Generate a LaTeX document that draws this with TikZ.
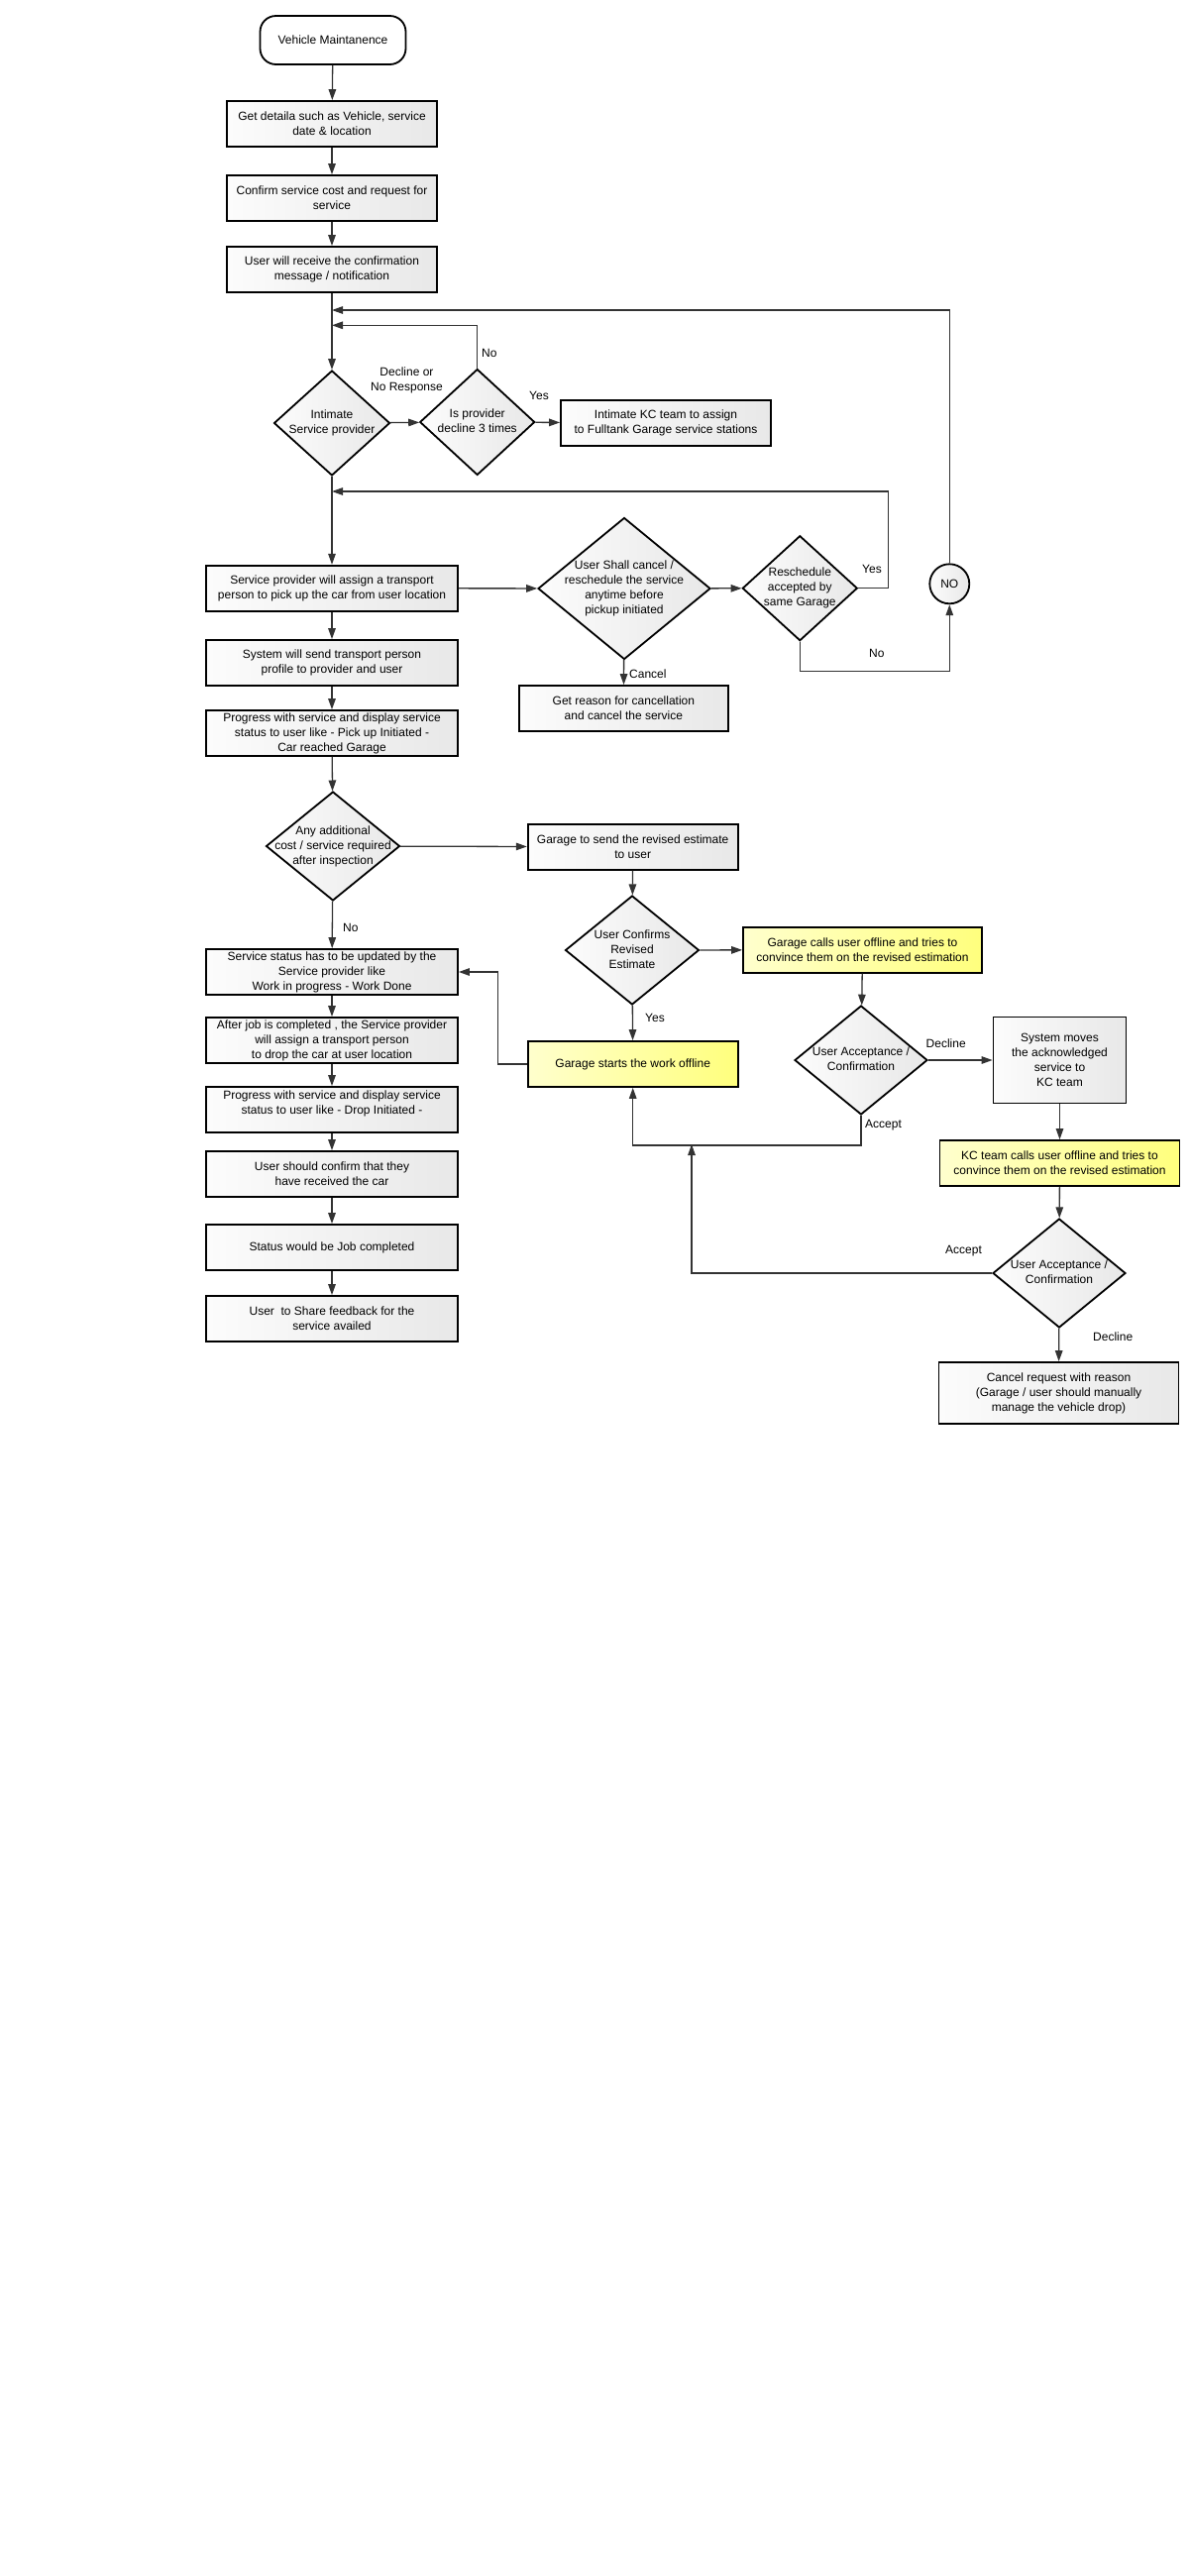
\documentclass[tikz,border=0pt]{standalone}
\usepackage{fontspec}
\setmainfont{Liberation Sans}
\usetikzlibrary{shapes.geometric,arrows.meta}
\newcommand{\dtext}[1]{\makebox[0pt]{\smash{\raisebox{-3pt}{\begin{tabular}{@{}c@{}}#1\end{tabular}}}}}
\definecolor{yl}{RGB}{255,255,205}
\definecolor{yr}{RGB}{255,255,125}
\definecolor{gl}{RGB}{252,252,252}
\definecolor{gr}{RGB}{232,232,232}
\begin{document}
\begin{tikzpicture}[x=1pt,y=-1pt,
  every node/.style={font=\fontsize{12}{15}\selectfont},
  box/.style={draw=black, line width=1.8pt, left color=gl, right color=gr, inner sep=0pt, align=center, minimum height=46pt},
  ybox/.style={box, left color=yl, right color=yr},
  dia/.style={diamond, draw=black, line width=1.8pt, left color=gl, right color=gr, inner sep=0pt},
  term/.style={draw=black, line width=1.8pt, rounded corners=16pt, fill=white, inner sep=0pt, minimum width=147pt, minimum height=49pt},
  endc/.style={circle, draw=black, line width=1.8pt, left color=gl, right color=gr, inner sep=0pt, minimum size=40pt},
  conn/.style={line width=1.3pt, draw=black!80, -{Triangle[length=11pt,width=7.5pt]}},
  lbl/.style={inner sep=0pt, align=center}
]
\useasboundingbox (0,0) rectangle (1200,2600);
\fill[white] (0,0) rectangle (1200,2600);

% main column
\node[term] (start) at (336,40.5) {Vehicle Maintanence};
\node[box, minimum width=212pt] (b1) at (335,125) {Get detaila such as Vehicle, service\\date \& location};
\node[box, minimum width=212pt] (b2) at (335,200) {Confirm service cost and request for\\service};
\node[box, minimum width=212pt] (b3) at (335,272) {User will receive the confirmation\\message / notification};
\node[dia, minimum width=117pt, minimum height=106pt] (d1) at (335,427) {\dtext{Intimate\\Service provider}};
\node[dia, minimum width=116pt, minimum height=107pt] (d2) at (481.7,426) {\dtext{Is provider\\decline 3 times}};
\node[box, minimum width=212pt] (kc1) at (672,427) {Intimate KC team to assign\\to Fulltank Garage service stations};

\node[box, minimum width=254pt] (sp) at (335,593.7) {Service provider will assign a transport\\person to pick up the car from user location};
\node[box, minimum width=254pt] (ss) at (335,669) {System will send transport person\\profile to provider and user};
\node[box, minimum width=254pt] (pg) at (335,740) {Progress with service and display service\\status to user like - Pick up Initiated -\\Car reached Garage};
\node[dia, minimum width=174pt, minimum height=143pt] (d3) at (630,594) {\dtext{User Shall cancel /\\reschedule the service\\anytime before\\pickup initiated}};
\node[box, minimum width=211pt] (gre0) at (629.4,715) {Get reason for cancellation\\and cancel the service};
\node[dia, minimum width=116pt, minimum height=106pt] (d4) at (807.3,593.7) {\dtext{Reschedule\\accepted by\\same Garage}};
\node[endc] (no) at (958.3,589.3) {NO};

\node[dia, minimum width=135pt, minimum height=110pt] (d5) at (336,854) {\dtext{Any additional\\cost / service required\\after inspection}};
\node[box, minimum width=212pt] (gre) at (638.7,854.7) {Garage to send the revised estimate\\to user};
\node[dia, minimum width=135pt, minimum height=110pt] (d6) at (638,959) {\dtext{User Confirms\\Revised\\Estimate}};
\node[ybox, minimum width=212pt] (gsw) at (638.7,1074) {Garage starts the work offline};
\node[ybox, minimum width=241pt] (gcu) at (870.5,958.7) {Garage calls user offline and tries to\\convince them on the revised estimation};
\node[dia, minimum width=134pt, minimum height=110pt] (d7) at (869,1070) {\dtext{User Acceptance /\\Confirmation}};
\node[box, minimum width=134pt, minimum height=87pt] (sm) at (1069.5,1070) {System moves\\the acknowledged\\service to\\KC team};
\node[ybox, minimum width=242pt] (kc2) at (1069.5,1174) {KC team calls user offline and tries to\\convince them on the revised estimation};
\node[dia, minimum width=134pt, minimum height=110pt] (d9) at (1069,1285) {\dtext{User Acceptance /\\Confirmation}};
\node[box, minimum width=242pt, minimum height=62pt] (cr) at (1068.5,1406) {Cancel request with reason\\(Garage / user should manually\\manage the vehicle drop)};

\node[box, minimum width=254pt] (su) at (335,981) {Service status has to be updated by the\\Service provider like\\Work in progress - Work Done};
\node[box, minimum width=254pt] (aj) at (335,1050) {After job is completed , the Service provider\\will assign a transport person\\to drop the car at user location};
\node[box, minimum width=254pt] (pd) at (335,1120) {Progress with service and display service\\status to user like - Drop Initiated -\\\mbox{}};
\node[box, minimum width=254pt] (uc) at (335,1185) {User should confirm that they\\have received the car};
\node[box, minimum width=254pt] (sj) at (335,1259) {Status would be Job completed};
\node[box, minimum width=254pt] (uf) at (335,1331) {User\ \ to Share feedback for the\\service availed};

% junctions
\coordinate (j0) at (335,313);
\coordinate (j1) at (335,328.3);
\coordinate (j2) at (335,496);
\coordinate (jA) at (698,1155);

% connectors
\draw[conn] (start) -- (b1);
\draw[conn] (b1) -- (b2);
\draw[conn] (b2) -- (b3);
\draw[conn] (b3) -- (d1);
\draw[conn] (d1) -- (d2);
\draw[conn] (d2) -- (kc1);
\draw[conn] (d2.north) |- (j1);
\draw[conn] (d1) -- (sp);
\draw[conn] (sp) -- (d3);
\draw[conn] (d3) -- (d4);
\draw[conn] (d4.east) -- ++(30,0) |- (j2);
\draw[conn] (d4.south) -- ++(0,30) -| (no.south);
\draw[conn] (no.north) |- (j0);
\draw[conn] (d3) -- (gre0);
\draw[conn] (sp) -- (ss);
\draw[conn] (ss) -- (pg);
\draw[conn] (pg) -- (d5);
\draw[conn] (d5) -- (gre);
\draw[conn] (d5) -- (su);
\draw[conn] (gre) -- (d6);
\draw[conn] (d6) -- (gsw);
\draw[conn] (d6) -- (gcu);
\draw[conn] (gsw.west) -- ++(-29.5,0) |- (su.east);
\draw[conn] (su) -- (aj);
\draw[conn] (aj) -- (pd);
\draw[conn] (pd) -- (uc);
\draw[conn] (uc) -- (sj);
\draw[conn] (sj) -- (uf);
\draw[conn] (gcu) -- (d7);
\draw[conn] (d7) -- (sm);
\draw[conn] (d7.south) -- ++(0,30) -| (gsw.south);
\draw[conn] (sm) -- (kc2);
\draw[conn] (kc2) -- (d9);
\draw[conn] (d9.west) -| (jA);
\draw[conn] (d9) -- (cr);

% labels
\node[lbl] (l1) at (410.5,384) {Decline or\\No Response};
\node[lbl, anchor=west] (l2) at (486,356.7) {No};
\node[lbl, anchor=west] (l3) at (534,399.3) {Yes};
\node[lbl, anchor=west] (l4) at (870,574) {Yes};
\node[lbl, anchor=west] (l5) at (877,659) {No};
\node[lbl, anchor=west] (l6) at (635,680) {Cancel};
\node[lbl, anchor=west] (l7) at (346,936) {No};
\node[lbl, anchor=west] (l8) at (651,1027) {Yes};
\node[lbl, anchor=west] (l9) at (934.5,1053) {Decline};
\node[lbl, anchor=west] (l10) at (873,1136) {Accept};
\node[lbl, anchor=west] (l11) at (954,1263) {Accept};
\node[lbl, anchor=west] (l12) at (1103,1349) {Decline};
\end{tikzpicture}
\end{document}
